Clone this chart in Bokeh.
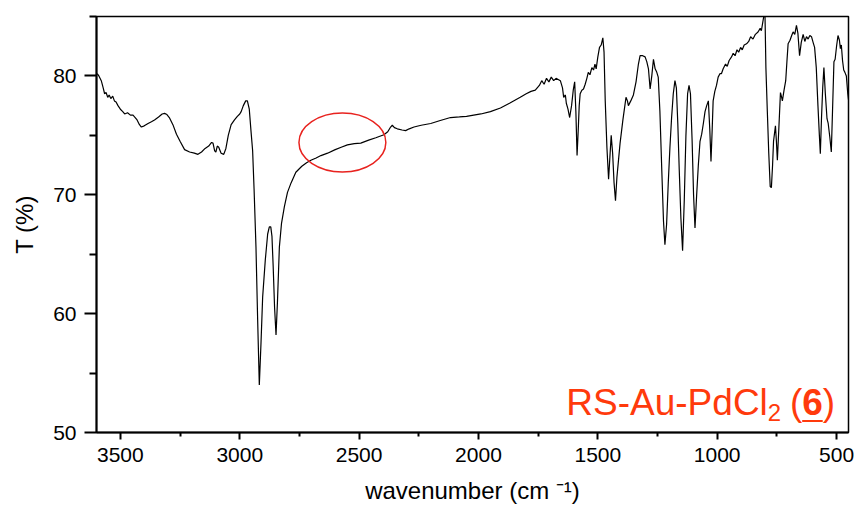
from bokeh.plotting import figure
from bokeh.models import Range1d, FixedTicker, Label
from bokeh.embed import file_html
from bokeh.resources import INLINE

# ---- spectrum ----
wavenumber = [
    3597, 3590, 3580, 3572, 3566, 3560, 3553, 3547, 3540, 3532, 3525, 3518, 3510, 3500,
    3490, 3482, 3470, 3458, 3447, 3438, 3430, 3420, 3412, 3400, 3384, 3370, 3357, 3340,
    3325, 3315, 3305, 3295, 3280, 3265, 3250, 3231, 3210, 3190, 3175, 3160, 3145, 3130,
    3118, 3112, 3105, 3100, 3094, 3088, 3078, 3067, 3058, 3048, 3036, 3022, 3010, 3000,
    2994, 2985, 2975, 2968, 2960, 2953, 2946, 2940, 2932, 2925, 2918, 2911, 2904, 2893,
    2883, 2876, 2870, 2865, 2860, 2854, 2848, 2842, 2834, 2825, 2813, 2800, 2785, 2765,
    2740, 2720, 2702, 2680, 2660, 2632, 2600, 2575, 2549, 2520, 2493, 2460, 2430, 2396,
    2380, 2368, 2361, 2352, 2340, 2320, 2305, 2290, 2270, 2240, 2200, 2160, 2117, 2080,
    2050, 2020, 1990, 1950, 1908, 1870, 1825, 1800, 1780, 1762, 1745, 1735, 1725, 1715,
    1705, 1695, 1685, 1675, 1657, 1648, 1643, 1636, 1632, 1625, 1618, 1610, 1603, 1597,
    1592, 1587, 1582, 1578, 1574, 1567, 1560, 1553, 1546, 1540, 1533, 1525, 1518, 1512,
    1507, 1500, 1493, 1486, 1479, 1474, 1469, 1462, 1455, 1450, 1444, 1438, 1432, 1426,
    1420, 1413, 1407, 1395, 1382, 1376, 1372, 1362, 1351, 1340, 1330, 1323, 1312, 1302,
    1295, 1288, 1281, 1274, 1267, 1260, 1253, 1247, 1240, 1232, 1225, 1219, 1212, 1205,
    1198, 1191, 1184, 1177, 1171, 1165, 1159, 1152, 1145, 1138, 1131, 1124, 1118, 1112,
    1105, 1099, 1093, 1086, 1079, 1072, 1065, 1058, 1051, 1044, 1037, 1031, 1026, 1021,
    1017, 1010, 1003, 996, 988, 982, 975, 965, 958, 950, 940, 933, 925, 917,
    910, 902, 895, 887, 877, 868, 860, 850, 840, 829, 820, 815, 810, 805,
    800, 796, 790, 784, 778, 773, 768, 764, 756, 752, 748, 742, 735, 730,
    727, 720, 713, 708, 703, 695, 688, 682, 675, 668, 662, 655, 648, 640,
    633, 626, 619, 612, 605, 598, 592, 585, 578, 572, 568, 563, 558, 553,
    547, 540, 535, 528, 522, 517, 511, 506, 500, 494, 488, 484, 480, 475,
    470, 465, 459, 453, 450,
]
transmittance = [
    80.2, 80.0, 79.6, 79.0, 78.5, 78.6, 78.2, 78.4, 78.1, 78.3, 77.9, 77.8, 77.5, 77.2,
    77.0, 76.8, 76.9, 76.7, 76.7, 76.5, 76.3, 75.9, 75.7, 75.8, 76.0, 76.15, 76.3, 76.55,
    76.8, 76.85, 76.75, 76.5, 75.9, 75.1, 74.5, 73.8, 73.6, 73.5, 73.4, 73.6, 73.9, 74.1,
    74.4, 74.35, 73.7, 73.6, 74.1, 74.0, 73.5, 73.4, 73.9, 75.0, 75.9, 76.3, 76.6, 76.8,
    77.0, 77.5, 77.9, 77.9, 77.2, 75.4, 73.7, 70.5, 65.6, 59.5, 54.0, 57.5, 61.4, 64.5,
    66.7, 67.3, 67.3, 66.5, 64.0, 60.5, 58.2, 61.0, 65.6, 67.6, 69.0, 70.2, 71.0, 71.9,
    72.4, 72.7, 72.9, 73.1, 73.3, 73.5, 73.8, 74.0, 74.2, 74.3, 74.35, 74.6, 74.8, 75.05,
    75.3, 75.7, 75.85, 75.65, 75.55, 75.45, 75.4, 75.55, 75.7, 75.85, 76.0, 76.25, 76.5, 76.55,
    76.6, 76.7, 76.8, 77.0, 77.3, 77.7, 78.2, 78.5, 78.7, 78.8, 79.2, 79.6, 79.3, 79.8,
    79.5, 79.9, 79.6, 79.8, 79.6, 79.0, 78.2, 78.4, 77.7, 77.2, 76.5, 77.5, 78.8, 79.5,
    77.0, 73.3, 75.5, 77.5, 78.5, 78.8, 78.9, 79.3, 79.8, 80.3, 80.1, 80.7, 80.5, 81.0,
    80.6, 81.6, 82.4, 82.6, 83.2, 82.0, 77.9, 74.0, 71.3, 73.0, 75.0, 73.5, 71.0, 69.5,
    71.5, 73.0, 74.3, 76.3, 78.2, 77.9, 77.5, 77.9, 78.4, 79.5, 81.0, 81.7, 81.7, 81.6,
    81.2, 80.6, 78.9, 80.0, 81.4, 80.6, 80.3, 79.9, 77.0, 72.0, 67.8, 65.8, 67.5, 71.0,
    74.0, 76.5, 78.5, 79.6, 79.0, 76.0, 72.1, 68.0, 65.3, 69.5, 75.0, 78.5, 79.2, 78.5,
    74.5, 70.0, 67.2, 70.0, 72.5, 74.5, 75.1, 76.0, 77.0, 77.5, 77.9, 75.5, 72.8, 75.5,
    77.9, 78.7, 79.2, 79.9, 80.2, 80.2, 80.6, 81.0, 80.8, 81.3, 81.6, 81.9, 81.7, 82.2,
    82.0, 82.4, 82.2, 82.6, 82.7, 82.9, 83.3, 83.1, 83.5, 83.7, 84.0, 83.8, 84.4, 85.0,
    85.4, 80.7, 77.0, 73.5, 70.7, 70.6, 72.5, 74.5, 75.8, 74.5, 72.9, 75.5, 78.6, 78.2,
    77.9, 78.8, 79.6, 81.2, 82.7, 83.0, 83.4, 83.7, 83.5, 84.25, 83.6, 81.7, 82.8, 83.5,
    82.9, 83.3, 83.1, 83.4, 83.3, 82.8, 82.4, 80.7, 77.5, 75.0, 73.45, 76.5, 79.0, 80.7,
    78.5, 76.4, 76.0, 74.8, 73.6, 77.0, 81.2, 81.4, 82.5, 83.4, 83.0, 82.3, 82.6, 81.3,
    80.5, 80.3, 80.0, 78.5, 78.0,
]

# ---- axes ----
x_major_ticks = [3500, 3000, 2500, 2000, 1500, 1000, 500]
x_minor_ticks = [3250, 2750, 2250, 1750, 1250, 750]
y_major_ticks = [50, 60, 70, 80]
y_minor_ticks = [55, 65, 75, 85]
x_label = "wavenumber (cm \u207b\u00b9)"
y_label = "T (%)"

# ---- annotation texts ----
name_main = "RS-Au-PdCl"
name_sub = "2"
name_open = "("
name_num = "6"
name_close = ")"

FONT = "Liberation Sans"
RED = "#ff3a0c"

p = figure(width=856, height=510, x_range=Range1d(3600, 450), y_range=Range1d(50, 85),
           output_backend="svg", toolbar_location=None,
           min_border_left=96, min_border_right=8, min_border_top=16, min_border_bottom=78)
p.xgrid.visible = False
p.ygrid.visible = False
p.outline_line_color = "black"
p.outline_line_width = 1.5
p.outline_line_alpha = 1.0
p.background_fill_color = "white"
p.border_fill_color = "white"

p.line(wavenumber, transmittance, line_color="black", line_width=1.2)

# red ring around the 2570 cm-1 region
ring_x, ring_y, ring_w, ring_h = 2570, 74.4, 364, 4.95
p.ellipse(x=[ring_x], y=[ring_y], width=ring_w, height=ring_h,
          fill_alpha=0, line_color="#e8231f", line_width=1.5)

for ax in (p.xaxis[0], p.yaxis[0]):
    ax.axis_line_width = 2
    ax.major_tick_line_width = 2
    ax.minor_tick_line_width = 2
    ax.major_tick_in = 0
    ax.minor_tick_in = 0
    ax.major_label_text_font = FONT
    ax.major_label_text_font_size = "21px"
    ax.major_label_text_color = "black"
    ax.axis_label_text_font = FONT
    ax.axis_label_text_font_size = "24px"
    ax.axis_label_text_font_style = "normal"
    ax.axis_label_text_color = "black"

p.xaxis.ticker = FixedTicker(ticks=x_major_ticks, minor_ticks=x_minor_ticks)
p.yaxis.ticker = FixedTicker(ticks=y_major_ticks, minor_ticks=y_minor_ticks)
p.xaxis.major_tick_out = 7
p.xaxis.minor_tick_out = 4
p.yaxis.major_tick_out = 12
p.yaxis.minor_tick_out = 7
p.xaxis.major_label_standoff = 8
p.yaxis.major_label_standoff = 8
p.xaxis.axis_label = x_label
p.yaxis.axis_label = y_label
p.xaxis.axis_label_standoff = 12
p.yaxis.axis_label_standoff = 12

def lab(text, x, y, size, style="normal"):
    p.add_layout(Label(x=x, y=y, text=text, text_font=FONT, text_font_size=size,
                       text_font_style=style, text_color=RED, text_align="left",
                       text_baseline="alphabetic"))

lab(name_main, 1632, 52.55, "37px")
lab(name_sub, 788, 51.65, "24px")
lab(name_open, 695, 52.55, "37px")
lab(name_num, 644, 52.55, "37px", "bold")
lab(name_close, 558, 52.55, "37px")
p.segment(x0=[644], y0=[50.97], x1=[558], y1=[50.97], line_color=RED, line_width=2)

open("out.html", "w").write(file_html(p, INLINE))
